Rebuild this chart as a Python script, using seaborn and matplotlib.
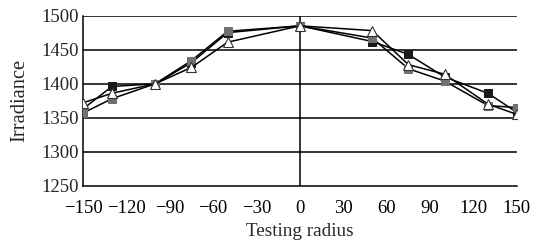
import matplotlib
matplotlib.use("Agg")
import matplotlib.pyplot as plt
import seaborn as sns
import pandas as pd

# === Data ===
radius = [-150, -130, -100, -75, -50, 0, 50, 75, 100, 130, 150]
black_sq = [1363, 1396, 1400, 1431, 1475, 1485, 1462, 1443, 1410, 1386, 1358]
gray_sq = [1357, 1378, 1400, 1434, 1477, 1485, 1467, 1422, 1404, 1368, 1365]
triangle = [1372, 1386, 1400, 1424, 1461, 1485, 1478, 1428, 1414, 1370, 1355]

x_ticks = [-150, -120, -90, -60, -30, 0, 30, 60, 90, 120, 150]
y_ticks = [1250, 1300, 1350, 1400, 1450, 1500]

sns.set_style("white")
plt.rcParams["font.family"] = ["Liberation Serif", "DejaVu Serif"]
plt.rcParams["axes.unicode_minus"] = True

fig = plt.figure(figsize=(5.39, 2.44), dpi=100)
ax = fig.add_axes([0.154, 0.238, 0.805, 0.698])

# horizontal grid + zero line
for yv in y_ticks[1:]:
    ax.axhline(yv, color="black", lw=1.1, zorder=1)
ax.axvline(0, color="black", lw=1.1, zorder=1)

df = pd.DataFrame({"radius": radius, "a": black_sq, "b": gray_sq, "c": triangle})

sns.lineplot(data=df, x="radius", y="a", ax=ax, color="black", lw=1.1,
             marker="s", markersize=5.5, markerfacecolor="#1a1a1a",
             markeredgecolor="#1a1a1a", zorder=3)
sns.lineplot(data=df, x="radius", y="b", ax=ax, color="black", lw=1.1,
             marker="s", markersize=5.5, markerfacecolor="#707070",
             markeredgecolor="#707070", zorder=3)
sns.lineplot(data=df, x="radius", y="c", ax=ax, color="black", lw=1.1,
             marker="^", markersize=7, markerfacecolor="white",
             markeredgecolor="#333333", markeredgewidth=0.8, zorder=4)

ax.set_xlim(-150, 150)
ax.set_ylim(1250, 1500)
ax.set_xticks(x_ticks)
ax.set_yticks(y_ticks)
ax.set_xticklabels([str(v).replace("-", "\u2212") for v in x_ticks])

for side in ["top", "right"]:
    ax.spines[side].set_visible(False)
for side in ["left", "bottom"]:
    ax.spines[side].set_color("black")
    ax.spines[side].set_linewidth(1.1)

ax.tick_params(axis="x", direction="in", length=4, width=1, colors="black",
               labelsize=13.5, pad=10)
ax.tick_params(axis="y", length=0, labelsize=13.5, pad=3)

ax.set_xlabel("Testing radius", fontsize=13.8)
ax.set_ylabel("Irradiance", fontsize=14.8)
ax.xaxis.set_label_coords(0.5, -0.215)
ax.yaxis.set_label_coords(-0.125, 0.5)

fig.savefig("out.png", dpi=100)
